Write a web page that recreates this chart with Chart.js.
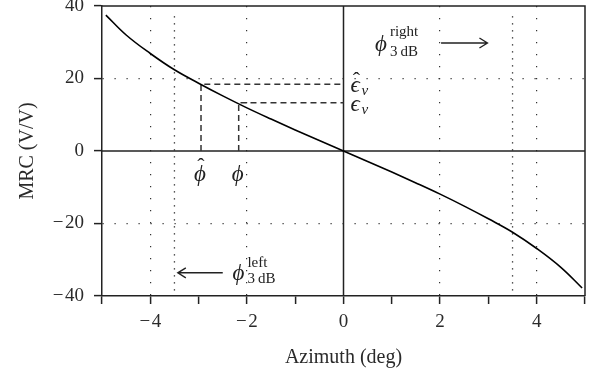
<!DOCTYPE html>
<html lang="en">
<head>
<meta charset="utf-8" />
<title>MRC vs azimuth</title>
<style>
  html, body { margin: 0; padding: 0; background: #fff; }
</style>
</head>
<body>
<canvas id="mrcChart" width="595" height="372"></canvas>

<script src="https://cdn.jsdelivr.net/npm/chart.js@4.4.1/dist/chart.umd.min.js"></script>
<script>
// MRC curve
const azimuth = [-4.92, -4.5, -4, -3.5, -3, -2.5, -2, -1.5, -1, -0.5, 0, 0.5, 1, 1.5, 2, 2.5, 3, 3.5, 4, 4.5, 4.94];
const mrc = [37.5, 32.0, 26.9, 22.4, 18.7, 15.2, 11.9, 8.8, 5.8, 2.9, 0, -2.9, -5.8, -8.8, -11.9, -15.2, -18.7, -22.4, -26.9, -32.1, -37.8];

// estimated angle / ratio pairs (dashed guides)
const phiHat = -2.95, epsHat = 18.4;
const phiEst = -2.17, epsEst = 13.3;

// 3 dB beam edges
const beamEdges = [-3.5, 3.5];

// axis ranges
const xRange = [-5, 5];
const yRange = [-40, 40];
const xGrid = [-4, -2, 2, 4];
const yGrid = [-20, 20];

const serif = '"Liberation Serif", "DejaVu Serif", serif';
const ink = '#222';

function minus(v) {
  return v < 0 ? '\u2212\u200A' + Math.abs(v) : String(v);
}

function pts(xs, ys) {
  return xs.map((v, i) => ({x: v, y: ys[i]}));
}

const guideStyle = {borderColor: '#333', borderWidth: 1.5, borderDash: [6, 4], pointRadius: 0, showLine: true, tension: 0};
const axisStyle = {borderColor: ink, borderWidth: 1.5, pointRadius: 0, showLine: true, tension: 0};
const beamStyle = {borderColor: '#222', borderWidth: 1.3, borderDash: [1.3, 5.7], pointRadius: 0, showLine: true, tension: 0};

const datasets = [
  {data: pts(azimuth, mrc), borderColor: '#000', borderWidth: 1.6, pointRadius: 0, showLine: true, tension: 0.4},
  Object.assign({data: pts([phiHat, phiHat, 0], [0, epsHat, epsHat])}, guideStyle),
  Object.assign({data: pts([phiEst, phiEst, 0], [0, epsEst, epsEst])}, guideStyle),
  Object.assign({data: pts([0, 0], yRange)}, axisStyle),
  Object.assign({data: pts(xRange, [0, 0])}, axisStyle)
];
beamEdges.forEach(function (b) {
  datasets.push(Object.assign({data: pts([b, b], [-38.5, 38.5])}, beamStyle));
});

function arrow(ctx, x1, y1, x2, y2) {
  const dir = Math.sign(x2 - x1);
  ctx.beginPath();
  ctx.moveTo(x1, y1); ctx.lineTo(x2, y2);
  ctx.moveTo(x2 - dir * 8, y2 - 5); ctx.lineTo(x2, y2); ctx.lineTo(x2 - dir * 8, y2 + 5);
  ctx.stroke();
}

function text(ctx, s, px, py, font, align) {
  ctx.font = font;
  ctx.textAlign = align || 'left';
  ctx.fillText(s, px, py);
}

const frameAndLabels = {
  id: 'frameAndLabels',
  afterDatasetsDraw(chart) {
    const {ctx, chartArea: a, scales: {x, y}} = chart;
    ctx.save();
    ctx.strokeStyle = ink;
    ctx.lineWidth = 1.5;
    ctx.beginPath();
    ctx.moveTo(a.left, a.top); ctx.lineTo(a.right, a.top); ctx.lineTo(a.right, a.bottom);
    ctx.stroke();

    ctx.fillStyle = '#222';
    ctx.textBaseline = 'alphabetic';
    const y0 = y.getPixelForValue(0);
    const x0 = x.getPixelForValue(0);
    const it = 'italic 23px ' + serif;
    const sub = 'italic 15px ' + serif;
    const small = '15px ' + serif;
    const hat = '22px ' + serif;

    // phi-hat and phi under the guides
    const ph = x.getPixelForValue(phiHat) - 1;
    text(ctx, '\u03D5', ph, y0 + 30, it, 'center');
    text(ctx, '\u02C6', ph + 1, y0 + 22, hat, 'center');
    text(ctx, '\u03D5', x.getPixelForValue(phiEst) - 1, y0 + 30, it, 'center');

    // eps-hat and eps beside the vertical axis
    const eh = y.getPixelForValue(epsHat);
    text(ctx, '\u03F5', x0 + 7, eh + 8, it);
    text(ctx, '\u02C6', x0 + 13, eh + 3, hat, 'center');
    text(ctx, '\u03BD', x0 + 18, eh + 11, sub);
    const ee = y.getPixelForValue(epsEst);
    text(ctx, '\u03F5', x0 + 7, ee + 8, it);
    text(ctx, '\u03BD', x0 + 18, ee + 11, sub);

    // right 3 dB edge
    const rx = x.getPixelForValue(0.65), ry = y.getPixelForValue(27.5);
    text(ctx, '\u03D5', rx, ry, it);
    text(ctx, 'right', rx + 15, ry - 15, small);
    text(ctx, '3\u2009dB', rx + 15, ry + 5, small);
    ctx.lineWidth = 1.4;
    arrow(ctx, x.getPixelForValue(2.02), y.getPixelForValue(29.8), x.getPixelForValue(2.98), y.getPixelForValue(29.8));

    // left 3 dB edge
    const lx = x.getPixelForValue(-2.3), ly = y.getPixelForValue(-35.5);
    text(ctx, '\u03D5', lx, ly, it);
    text(ctx, 'left', lx + 15, ly - 13, small);
    text(ctx, '3\u2009dB', lx + 15, ly + 3, small);
    arrow(ctx, x.getPixelForValue(-2.5), y.getPixelForValue(-33.6), x.getPixelForValue(-3.43), y.getPixelForValue(-33.6));
    ctx.restore();
  }
};

const ctx = document.getElementById('mrcChart').getContext('2d');
new Chart(ctx, {
  type: 'scatter',
  data: {datasets: datasets},
  options: {
    responsive: false,
    animation: false,
    events: [],
    layout: {padding: {top: 6, right: 10, left: 0, bottom: 0}},
    plugins: {legend: {display: false}, tooltip: {enabled: false}},
    scales: {
      x: {
        type: 'linear',
        min: xRange[0], max: xRange[1],
        afterFit: function (s) { s.height = 76; s.paddingLeft = 0; s.paddingRight = 0; },
        ticks: {
          stepSize: 1, autoSkip: false, maxRotation: 0, padding: 7, color: '#2a2a2a',
          font: {family: serif, size: 19},
          callback: function (v) { return v % 2 === 0 && Math.abs(v) < 5 ? minus(v) : ''; }
        },
        grid: {
          color: function (c) { return xGrid.includes(c.tick.value) ? '#333' : 'rgba(0,0,0,0)'; },
          lineWidth: 1.2, tickLength: 8, tickColor: ink, tickWidth: 1.5
        },
        border: {display: true, color: ink, width: 1.5, dash: [1.2, 10.8]},
        title: {display: true, text: 'Azimuth (deg)', color: '#2a2a2a', font: {family: serif, size: 20}, padding: {top: 0, bottom: 2}}
      },
      y: {
        type: 'linear',
        min: yRange[0], max: yRange[1],
        afterFit: function (s) { s.width = 102; s.paddingTop = 0; s.paddingBottom = 0; },
        ticks: {
          stepSize: 20, padding: 10, color: '#2a2a2a',
          font: {family: serif, size: 19},
          callback: function (v) { return minus(v); }
        },
        grid: {
          color: function (c) { return yGrid.includes(c.tick.value) ? '#333' : 'rgba(0,0,0,0)'; },
          lineWidth: 1.2, tickLength: 8, tickColor: ink, tickWidth: 1.5
        },
        border: {display: true, color: ink, width: 1.5, dash: [1.2, 10.8]},
        title: {display: true, text: 'MRC (V/V)', color: '#2a2a2a', font: {family: serif, size: 20}, padding: {top: 16, bottom: 0}}
      }
    }
  },
  plugins: [frameAndLabels]
});
</script>
</body>
</html>
